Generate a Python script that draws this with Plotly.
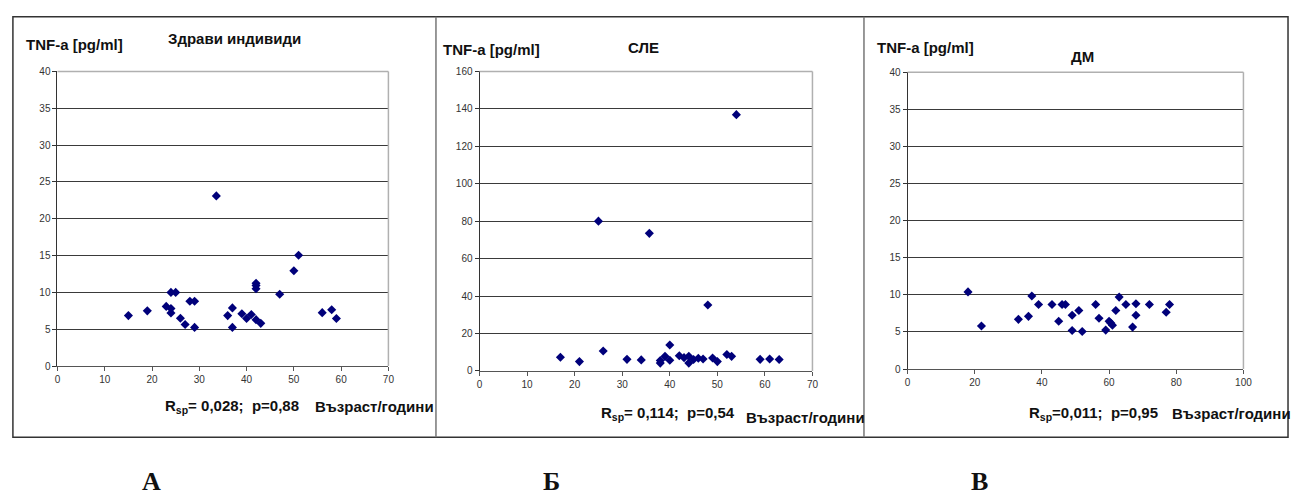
import plotly.graph_objects as go

W, H = 1299, 497

# Panel A – healthy individuals
age_a = [15, 19, 23, 24, 24, 24, 25, 26, 27, 28, 29, 29, 33.6, 36, 37, 37, 39, 40, 41, 42, 42, 42, 42, 43, 47, 50, 51, 56, 58, 59]
tnf_a = [6.85, 7.5, 8.1, 7.8, 7.2, 10.0, 10.0, 6.5, 5.65, 8.8, 8.8, 5.25, 23.1, 6.85, 7.9, 5.25, 7.1, 6.45, 7.0, 6.3, 11.25, 10.95, 10.5, 5.8, 9.75, 12.95, 15.05, 7.25, 7.65, 6.45]

# Panel B – SLE
age_b = [17, 21, 25, 26, 31, 34, 35.7, 38, 38, 39, 40, 40, 42, 43, 44, 44, 45, 46, 47, 48, 49, 50, 52, 53, 54, 59, 61, 63]
tnf_b = [7.3, 5.0, 80, 10.7, 6.2, 5.9, 73.5, 5.6, 4.2, 7.8, 5.7, 13.9, 8.1, 7.1, 7.8, 4.2, 6.1, 6.8, 6.4, 35.2, 6.9, 5.0, 8.8, 7.8, 136.9, 6.2, 6.4, 6.1]

# Panel C – DM
age_c = [18, 22, 33, 36, 37, 39, 43, 45, 46, 47, 49, 49, 51, 52, 56, 57, 59, 60, 60.5, 61, 62, 63, 65, 67, 68, 68, 72, 77, 78]
tnf_c = [10.4, 5.8, 6.7, 7.1, 9.85, 8.7, 8.7, 6.45, 8.7, 8.7, 7.25, 5.2, 7.9, 5.05, 8.7, 6.85, 5.25, 6.45, 6.2, 5.9, 7.9, 9.7, 8.7, 5.65, 8.8, 7.25, 8.7, 7.65, 8.7]

titles = ["Здрави индивиди", "СЛЕ", "ДМ"]
stats = ["R<sub>sp</sub>= 0,028;  p=0,88", "R<sub>sp</sub>= 0,114;  p=0,54", "R<sub>sp</sub>=0,011;  p=0,95"]
letters = ["А", "Б", "В"]
y_label = "TNF-a [pg/ml]"
x_label = "Възраст/години"

panels = [
    dict(x=age_a, y=tnf_a, xr=[0, 70], xd=10, yr=[0, 40], yd=5, box=(55, 389, 67, 369)),
    dict(x=age_b, y=tnf_b, xr=[0, 70], xd=10, yr=[0, 160], yd=20, box=(481, 817, 67, 374)),
    dict(x=age_c, y=tnf_c, xr=[0, 100], xd=20, yr=[0, 40], yd=5, box=(913, 1252, 68, 372)),
]

def px(x):
    return x / W

def py(y):
    return 1 - y / H

fig = go.Figure()
shapes = []
for i, p in enumerate(panels):
    n = "" if i == 0 else str(i + 1)
    x0, x1, y0, y1 = p["box"]
    fig.add_trace(go.Scatter(
        x=p["x"], y=p["y"], mode="markers", xaxis="x" + n, yaxis="y" + n,
        marker=dict(symbol="diamond", size=7, color="#00007a"), showlegend=False,
        cliponaxis=False))
    fig.layout["xaxis" + n] = dict(
        domain=[px(x0), px(x1)], range=p["xr"], dtick=p["xd"], anchor="y" + n,
        showgrid=False, zeroline=False, showline=True, linecolor="#555", linewidth=1,
        ticks="outside", ticklen=4, tickcolor="#555", tickfont=dict(size=10, color="#333"),
        fixedrange=True)
    fig.layout["yaxis" + n] = dict(
        domain=[py(y1), py(y0)], range=p["yr"], dtick=p["yd"], anchor="x" + n,
        showgrid=True, gridcolor="#3a3a3a", gridwidth=1, zeroline=False,
        showline=True, linecolor="#333", linewidth=1,
        ticks="outside", ticklen=4, tickcolor="#333", tickfont=dict(size=10, color="#333"),
        fixedrange=True)
    # plot-area border (top and right in grey)
    shapes.append(dict(type="line", xref="paper", yref="paper", x0=px(x0), x1=px(x1), y0=py(y0), y1=py(y0),
                       line=dict(color="#b0b0b0", width=1.5)))
    shapes.append(dict(type="line", xref="paper", yref="paper", x0=px(x1), x1=px(x1), y0=py(y0), y1=py(y1),
                       line=dict(color="#b0b0b0", width=1.5)))

# outer frame and separators
shapes.append(dict(type="rect", xref="paper", yref="paper", x0=px(10), x1=px(1297), y0=py(442), y1=py(11),
                   line=dict(color="#333", width=1.5)))
for sx in [437, 869]:
    shapes.append(dict(type="line", xref="paper", yref="paper", x0=px(sx), x1=px(sx), y0=py(442), y1=py(11),
                       line=dict(color="#777", width=1.5)))

ann = []
def add(text, cx, cy, size=15, family="Liberation Sans", bold=True):
    ann.append(dict(text=("<b>%s</b>" % text) if bold else text, x=px(cx), y=py(cy), xref="paper", yref="paper",
                    showarrow=False, xanchor="center", yanchor="middle",
                    font=dict(size=size, family=family, color="#111")))

tnf_pos = [(72, 39), (493, 45), (931, 43)]
title_pos = [(234, 33), (646, 43), (1090, 52)]
stat_pos = [(231, 410), (671, 418), (1101, 418)]
xl_pos = [(375, 410), (810, 422), (1240, 418)]
letter_pos = [(150, 487), (554, 487), (986, 487)]
for i in range(3):
    add(y_label, *tnf_pos[i])
    add(titles[i], *title_pos[i])
    add(stats[i], *stat_pos[i])
    add(x_label, *xl_pos[i])
    add(letters[i], *letter_pos[i], size=26, family="Liberation Serif")

fig.update_layout(
    width=W, height=H, margin=dict(l=0, r=0, t=0, b=0),
    paper_bgcolor="white", plot_bgcolor="white",
    font=dict(family="Liberation Sans", color="#222"),
    shapes=shapes, annotations=ann, showlegend=False)

fig.write_html("out.html")
